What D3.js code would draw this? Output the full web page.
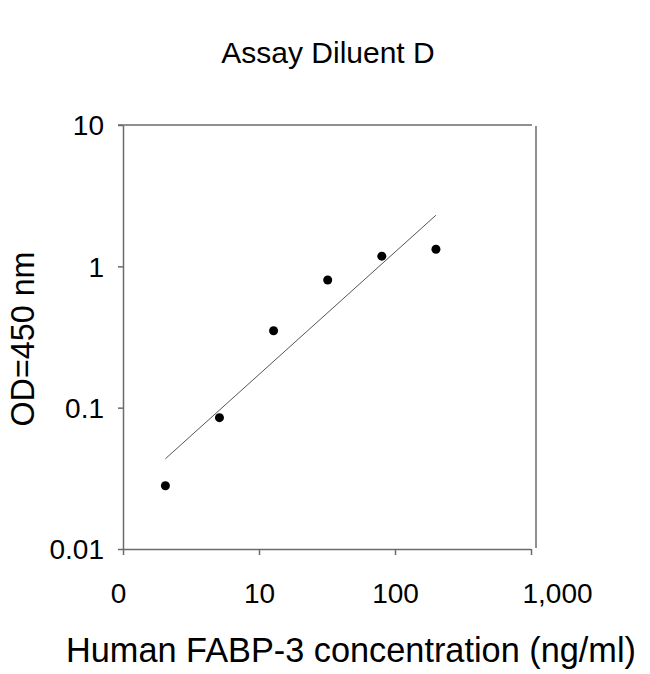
<!DOCTYPE html>
<html>
<head>
<meta charset="utf-8">
<script src="https://cdn.jsdelivr.net/npm/d3@7"></script>
<style>
  body { margin: 0; background: #fff; }
  text { font-family: "Liberation Sans", Arial, sans-serif; fill: #000; }
</style>
</head>
<body>
<svg id="chart"></svg>
<script>
// standard concentrations (ng/ml) and measured OD
const concentrations = [2.05, 5.12, 12.8, 32, 80, 200];
const odValues = [0.028, 0.085, 0.35, 0.80, 1.18, 1.32];

// power fit drawn as a straight line on log-log axes (endpoints)
const fitX = [2.05, 200];
const fitY = [0.0435, 2.3];

const xTicks = [1, 10, 100, 1000];
const xTickLabels = ["0", "10", "100", "1,000"];
const yTicks = [0.01, 0.1, 1, 10];
const yTickLabels = ["0.01", "0.1", "1", "10"];

const titleText = "Assay Diluent D";
const xLabel = "Human FABP-3 concentration (ng/ml)";
const yLabel = "OD=450 nm";

const width = 650, height = 674;
const margin = {top: 125, right: 119, bottom: 125, left: 123};

const svg = d3.select("#chart")
    .attr("width", width)
    .attr("height", height);

const x = d3.scaleLog()
    .domain([1, 1000])
    .range([margin.left, width - margin.right]);
const y = d3.scaleLog()
    .domain([0.01, 10])
    .range([height - margin.bottom, margin.top]);

const axisColor = "#6b6b6b";

// bottom axis
const xAxis = svg.append("g")
    .attr("transform", `translate(0, ${y(0.01)})`)
    .call(d3.axisBottom(x)
        .tickValues(xTicks)
        .tickSize(6)
        .tickSizeOuter(0)
        .tickPadding(28)
        .tickFormat((d, i) => xTickLabels[i]));

// left axis
const yAxis = svg.append("g")
    .attr("transform", `translate(${x(1)}, 0)`)
    .call(d3.axisLeft(y)
        .tickValues(yTicks)
        .tickSize(5)
        .tickSizeOuter(0)
        .tickPadding(14)
        .tickFormat((d, i) => yTickLabels[i]));

[xAxis, yAxis].forEach(g => {
    g.selectAll(".domain, line").attr("stroke", axisColor).attr("stroke-width", 1.5);
    g.selectAll("text")
        .style("font-family", '"Liberation Sans", Arial, sans-serif')
        .style("font-size", "28px")
        .attr("fill", "#000");
});
yAxis.selectAll("text").attr("dy", "0.35em");
// the Excel-style "1,000" label sits right of its tick
xAxis.selectAll(".tick text").attr("dx", d => d === 1000 ? 26 : (d === 1 ? -5 : 0));

// top and right frame
svg.append("line")
    .attr("x1", x(1) - 5).attr("x2", x(1000) + 1)
    .attr("y1", y(10)).attr("y2", y(10))
    .attr("stroke", axisColor).attr("stroke-width", 1.5);
svg.append("line")
    .attr("x1", x(1000) + 5).attr("x2", x(1000) + 5)
    .attr("y1", y(10) + 1).attr("y2", y(0.01) - 1)
    .attr("stroke", axisColor).attr("stroke-width", 1.5);

// fit line
svg.append("line")
    .attr("x1", x(fitX[0])).attr("y1", y(fitY[0]))
    .attr("x2", x(fitX[1])).attr("y2", y(fitY[1]))
    .attr("stroke", "#555")
    .attr("stroke-width", 1);

// points
svg.append("g")
    .selectAll("circle")
    .data(concentrations)
    .enter()
    .append("circle")
        .attr("cx", d => x(d))
        .attr("cy", (d, i) => y(odValues[i]))
        .attr("r", 4.5)
        .attr("fill", "#000");

// titles
svg.append("text")
    .attr("x", 328).attr("y", 63)
    .attr("text-anchor", "middle")
    .style("font-size", "30px")
    .text(titleText);

svg.append("text")
    .attr("x", 351).attr("y", 662)
    .attr("text-anchor", "middle")
    .style("font-size", "34.3px")
    .text(xLabel);

svg.append("text")
    .attr("transform", "translate(34, 339) rotate(-90)")
    .attr("text-anchor", "middle")
    .style("font-size", "32.3px")
    .text(yLabel);
</script>
</body>
</html>
